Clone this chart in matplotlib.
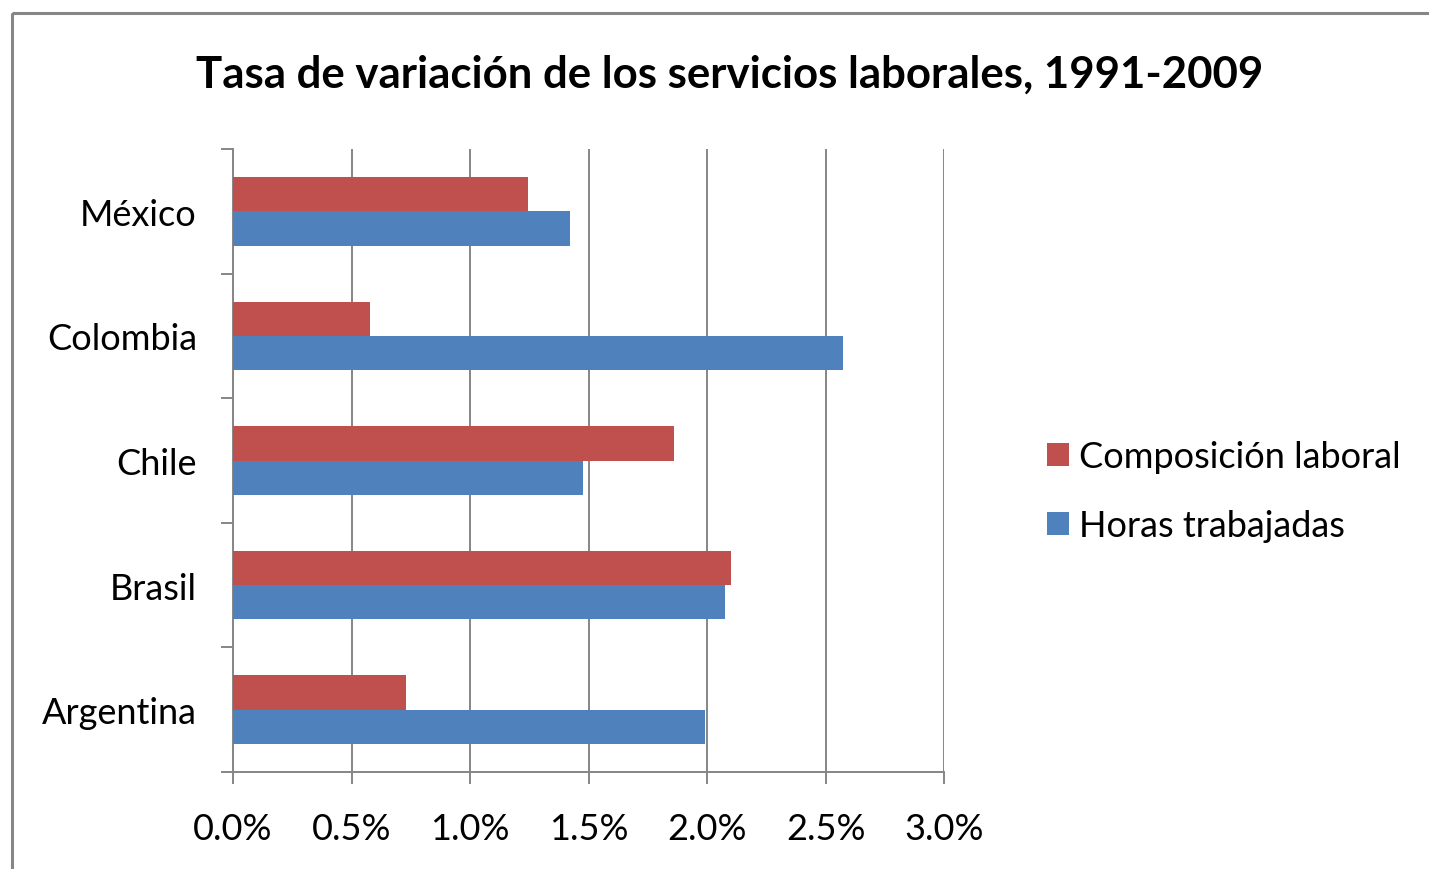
import matplotlib
matplotlib.use('Agg')
import matplotlib.pyplot as plt
import matplotlib.patches as patches
import numpy as np

#Data (percent)
paises = ['Argentina', 'Brasil', 'Chile', 'Colombia', 'México']
composicion = [0.73, 2.10, 1.86, 0.58, 1.245]
horas = [1.99, 2.075, 1.475, 2.575, 1.42]
xticks = [0.0, 0.5, 1.0, 1.5, 2.0, 2.5, 3.0]

rojo = '#C0504D'
azul = '#4F81BD'
gris = '#868686'

plt.rcParams['font.family'] = ['Lato', 'DejaVu Sans']

fig = plt.figure(figsize=(14.29, 8.70), dpi=100)
ax = fig.add_axes([233/1429, 1-773/870, (944-233)/1429, (773-150)/870])

#Outer chart border (cut by the image edge)
fig.patches.append(patches.Rectangle((12/1429, 1-14/870), 2, -2, transform=fig.transFigure,
                                     fill=False, edgecolor=gris, linewidth=2.2))

y = np.arange(len(paises))
h = 0.275
ax.barh(y + h/2, composicion, height=h, color=rojo, label='Composición laboral', zorder=3)
ax.barh(y - h/2, horas, height=h, color=azul, label='Horas trabajadas', zorder=3)

ax.set_xlim(0, 3.0)
ax.set_ylim(-0.5, len(paises) - 0.5)
ax.set_xticks(xticks)
ax.set_xticklabels(['%.1f%%' % v for v in xticks], fontsize=26)
ax.tick_params(axis='x', length=8.5, width=1.4, color=gris, pad=20)

ax.set_yticks(np.arange(len(paises) + 1) - 0.5)
ax.set_yticklabels([])
ax.set_yticks(y, minor=True)
ax.set_yticklabels(paises, minor=True, fontsize=26)
ax.tick_params(axis='y', which='major', length=8.5, width=1.4, color=gris)
ax.tick_params(axis='y', which='minor', length=0, pad=26)

ax.grid(axis='x', color=gris, linewidth=1.4, zorder=0)
for s in ['top', 'right']:
    ax.spines[s].set_visible(False)
for s in ['left', 'bottom']:
    ax.spines[s].set_color(gris)
    ax.spines[s].set_linewidth(1.4)

fig.text(730/1429, 1-75/870, 'Tasa de variación de los servicios laborales, 1991-2009',
         ha='center', va='center', fontsize=31.5, fontweight='bold')

leg = ax.legend(loc='upper left', bbox_to_anchor=(1029/1429, 1-423/870), bbox_transform=fig.transFigure,
                frameon=False, fontsize=26, handlelength=0.61, handleheight=0.61,
                handletextpad=0.28, labelspacing=1.0, borderpad=0)

plt.savefig('out.png', dpi=100)
